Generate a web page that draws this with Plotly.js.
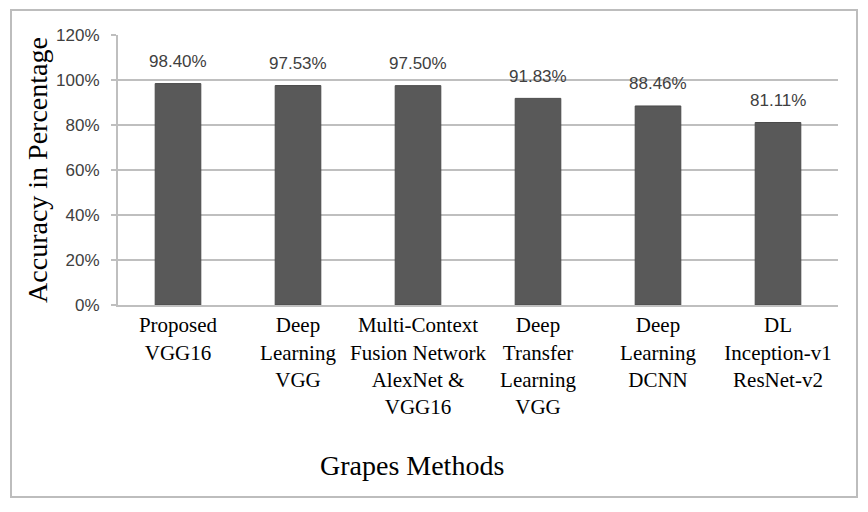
<!DOCTYPE html>
<html>
<head>
<meta charset="utf-8">
<script src="https://cdn.plot.ly/plotly-3.0.1.min.js"></script>
<style>html,body{margin:0;padding:0;background:#fff;}#chart{width:868px;height:512px;}</style>
</head>
<body>
<div id="chart"></div>
<script>
const categories = [
  "Proposed<br>VGG16",
  "Deep<br>Learning<br>VGG",
  "Multi-Context<br>Fusion Network<br>AlexNet &amp;<br>VGG16",
  "Deep<br>Transfer<br>Learning<br>VGG",
  "Deep<br>Learning<br>DCNN",
  "DL<br>Inception-v1<br>ResNet-v2"
];
const accuracy = [98.40, 97.53, 97.50, 91.83, 88.46, 81.11];
const valueLabels = ["98.40%", "97.53%", "97.50%", "91.83%", "88.46%", "81.11%"];
const yTickValues = [0, 20, 40, 60, 80, 100, 120];
const yTickLabels = ["0%", "20%", "40%", "60%", "80%", "100%", "120%"];

const trace = {
  type: "bar",
  x: categories,
  y: accuracy,
  marker: { color: "#595959", line: { color: "#4a4a4a", width: 1 } },
  hoverinfo: "skip"
};

const narrow = "Liberation Sans Narrow, Arial Narrow, sans-serif";
const serif = "Liberation Serif, Times New Roman, serif";

const labelAnnotations = categories.map((c, i) => ({
  x: c, y: accuracy[i], xref: "x", yref: "y",
  text: valueLabels[i], showarrow: false, yshift: 22,
  font: { family: narrow, size: 17, color: "#404040" }
}));

const layout = {
  width: 868, height: 512,
  margin: { l: 118, r: 30, t: 35, b: 207 },
  paper_bgcolor: "#fff", plot_bgcolor: "#fff",
  showlegend: false,
  bargap: 0.62,
  font: { family: serif, color: "#000" },
  xaxis: {
    type: "category",
    tickfont: { family: serif, size: 21, color: "#000" },
    showline: true, linecolor: "#bfbfbf", linewidth: 2,
    ticks: "", showgrid: false,
    ticklabelstandoff: 0
  },
  yaxis: {
    range: [0, 120],
    tickmode: "array",
    tickvals: yTickValues,
    ticktext: yTickLabels,
    tickfont: { family: narrow, size: 17, color: "#404040" },
    showline: true, linecolor: "#bfbfbf", linewidth: 2,
    ticks: "outside", ticklen: 5, tickcolor: "#bfbfbf", tickwidth: 2,
    showgrid: true, gridcolor: "#bfbfbf", gridwidth: 2,
    zeroline: false,
    ticklabelstandoff: 8,
    title: { text: "Accuracy in Percentage", font: { family: serif, size: 28, color: "#000" }, standoff: 0 }
  },
  annotations: labelAnnotations.concat([{
    xref: "paper", yref: "paper", x: 0.408, y: (305 - 465) / 270,
    xanchor: "center", yanchor: "middle",
    text: "Grapes Methods", showarrow: false,
    font: { family: serif, size: 28, color: "#000" }
  }]),
  shapes: [{
    type: "rect", xref: "paper", yref: "paper",
    x0: -0.1486, x1: 1.0264, y0: -0.711, y1: 1.0926,
    line: { color: "#bdbdbd", width: 2 }, fillcolor: "rgba(0,0,0,0)", layer: "below"
  }]
};

Plotly.newPlot("chart", [trace], layout, { displayModeBar: false, staticPlot: true });
</script>
</body>
</html>
